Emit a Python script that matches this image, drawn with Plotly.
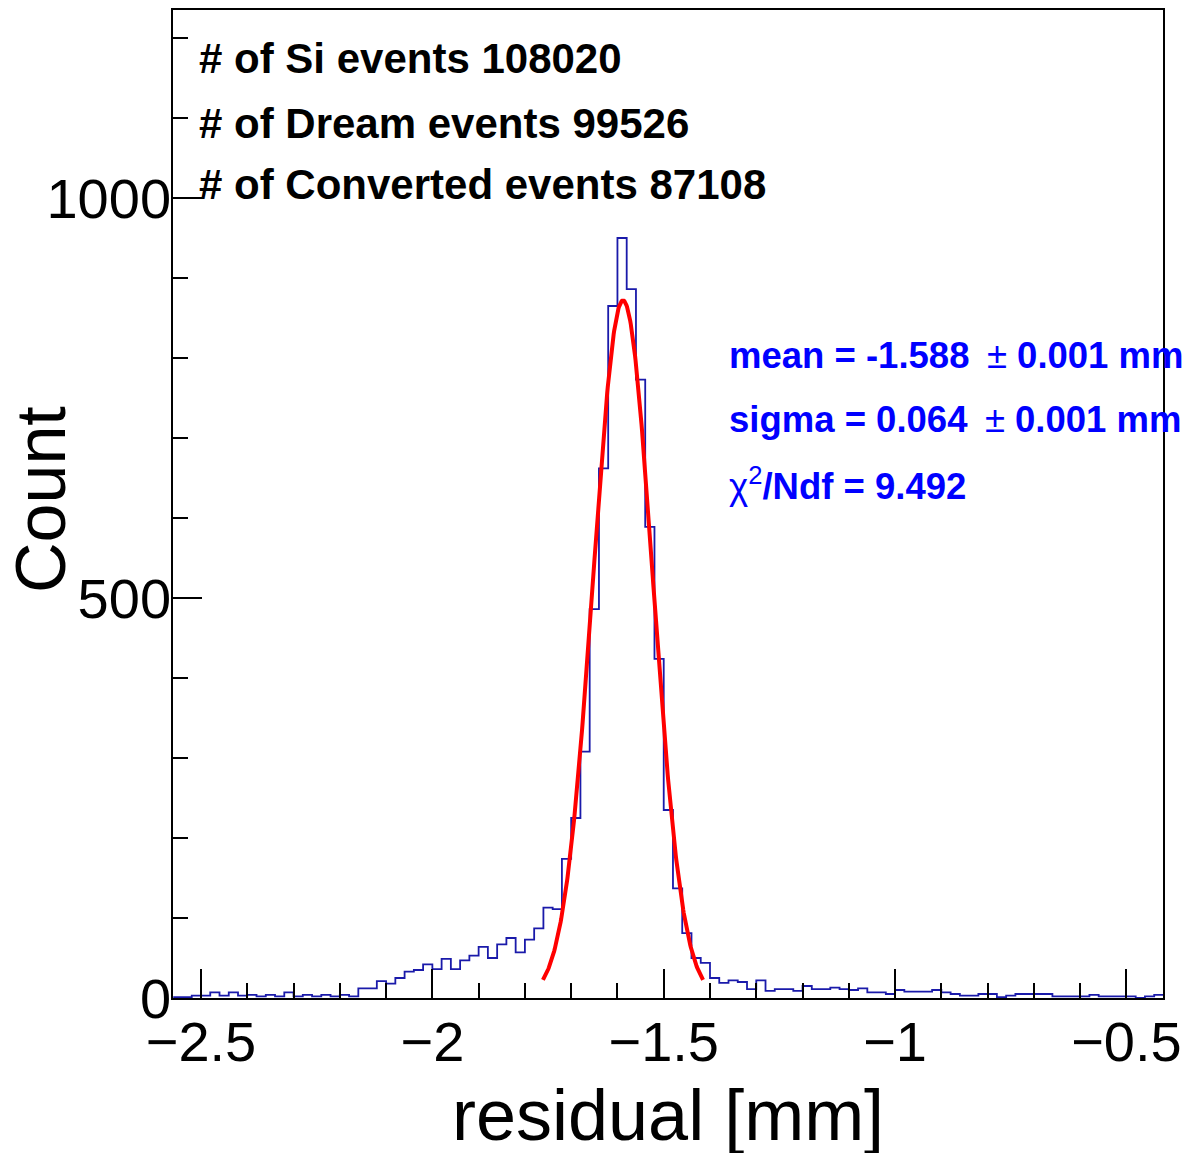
import plotly.graph_objects as go
import numpy as np

# ---- data ----
bin_lo = -2.56
bin_width = 0.02
counts = [1, 1, 3, 3, 7, 3, 7, 3, 4, 2,
          4, 2, 7, 2, 4, 2, 4, 2, 4, 2,
          12, 12, 21, 18, 25, 33, 35, 42, 36, 49,
          36, 47, 53, 64, 50, 67, 75, 57, 73, 87,
          113, 111, 174, 225, 308, 486, 662, 865, 950, 886,
          773, 589, 424, 235, 137, 81, 50, 44, 25, 19,
          22, 20, 11, 22, 9, 11, 11, 9, 15, 11,
          11, 13, 11, 10, 12, 7, 7, 5, 10, 8,
          8, 8, 10, 7, 5, 3, 3, 5, 5, 1,
          3, 5, 5, 5, 5, 2, 2, 2, 2, 4,
          2, 2, 2, 2, 0, 2, 4]

fit_mean = -1.588
fit_sigma = 0.064
fit_amp = 872
fit_lo = -1.761
fit_hi = -1.415

info_lines = ["# of Si events 108020",
              "# of Dream events 99526",
              "# of Converted events 87108"]
fit_lines = ["<b>mean = -1.588</b> \u2009± <b>0.001 mm</b>",
             "<b>sigma = 0.064</b> \u2009± <b>0.001 mm</b>",
             "χ<sup>2</sup><b>/Ndf = 9.492</b>"]

x_title = "residual [mm]"
y_title = "Count"

# ---- figure ----
edges = bin_lo + bin_width * np.arange(len(counts) + 1)
step_y = list(counts) + [counts[-1]]

xf = np.linspace(fit_lo, fit_hi, 300)
yf = fit_amp * np.exp(-0.5 * ((xf - fit_mean) / fit_sigma) ** 2)

FONT = "Liberation Sans, Arial, Helvetica, sans-serif"

fig = go.Figure()
fig.add_trace(go.Scatter(x=edges, y=step_y, mode="lines", line_shape="hv",
                         line=dict(color="#1a1aaa", width=1.8), hoverinfo="skip",
                         showlegend=False))
fig.add_trace(go.Scatter(x=xf, y=yf, mode="lines",
                         line=dict(color="#ff0000", width=4), hoverinfo="skip",
                         showlegend=False))

L, R, T, B = 173, 24, 10, 155
W, H = 1187, 1153
pw, ph = W - L - R, H - T - B


def px(xp):
    return (xp - L) / pw


def py(yp):
    return (H - B - yp) / ph


axis_common = dict(showline=True, linecolor="black", linewidth=1.5, mirror=True,
                   ticks="inside", ticklen=29, tickwidth=1.5, tickcolor="black",
                   showgrid=False, zeroline=False, automargin=False,
                   tickfont=dict(family=FONT, size=56, color="black"))

fig.update_xaxes(range=[-2.5605, -0.421], tick0=-2.5, dtick=0.5, ticklabelstandoff=-6,
                 minor=dict(ticks="inside", ticklen=15, tickwidth=1.5, tickcolor="black",
                            dtick=0.1, tick0=-2.5, showgrid=False),
                 **axis_common)
fig.update_yaxes(range=[0, 1235], tick0=0, dtick=500, ticklabelstandoff=-11,
                 minor=dict(ticks="inside", ticklen=15, tickwidth=1.5, tickcolor="black",
                            dtick=100, tick0=0, showgrid=False),
                 **axis_common)

annotations = []
for txt, yp in zip(info_lines, [58, 123, 185]):
    annotations.append(dict(text="<b>" + txt + "</b>", x=px(197), y=py(yp), xref="paper", yref="paper",
                            xanchor="left", yanchor="middle", showarrow=False,
                            font=dict(family=FONT, size=42, color="black")))
for txt, yp in zip(fit_lines, [355, 419, 484]):
    annotations.append(dict(text=txt, x=px(727), y=py(yp), xref="paper", yref="paper",
                            xanchor="left", yanchor="middle", showarrow=False,
                            font=dict(family=FONT, size=36.5, color="#0000ff")))
annotations.append(dict(text=x_title, x=0.5, y=py(1115), xref="paper", yref="paper",
                        xanchor="center", yanchor="middle", showarrow=False,
                        font=dict(family=FONT, size=72, color="black")))
annotations.append(dict(text=y_title, x=px(41), y=py(500), xref="paper", yref="paper",
                        xanchor="center", yanchor="middle", showarrow=False, textangle=-90,
                        font=dict(family=FONT, size=70, color="black")))

fig.update_layout(width=W, height=H, autosize=False,
                  margin=dict(l=L, r=R, t=T, b=B, pad=0, autoexpand=False),
                  paper_bgcolor="white", plot_bgcolor="white",
                  annotations=annotations, showlegend=False)

fig.write_html("out.html", config={"displayModeBar": False},
               post_script="document.body.style.margin='0';document.body.style.overflow='hidden';")
